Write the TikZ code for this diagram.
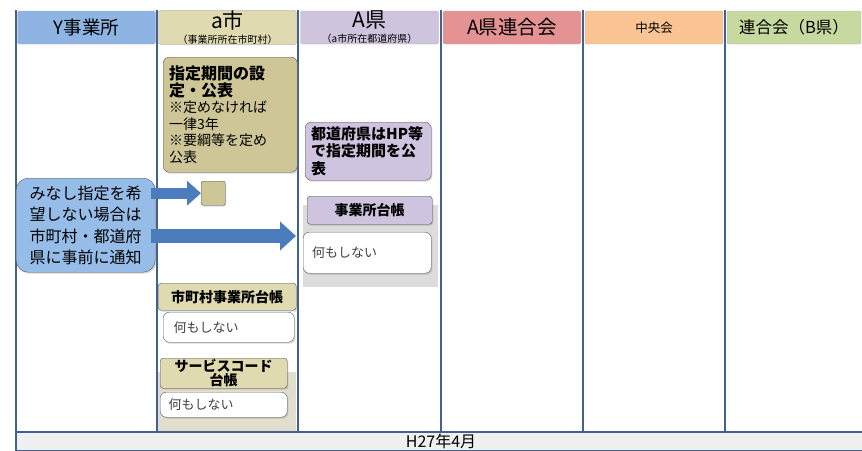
\documentclass[tikz,border=0pt]{standalone}
\usepackage{fontspec}
\setmainfont{Noto Sans CJK JP}
\usetikzlibrary{arrows.meta,shadows}

\definecolor{laneline}{RGB}{66,96,146}
\definecolor{hdblue}{RGB}{141,180,226}
\definecolor{hdtan}{RGB}{224,218,176}
\definecolor{hdlav}{RGB}{207,196,222}
\definecolor{hdpink}{RGB}{228,146,146}
\definecolor{hdorange}{RGB}{250,196,148}
\definecolor{hdgreen}{RGB}{198,217,158}
\definecolor{boxtan}{RGB}{206,198,150}
\definecolor{boxlav}{RGB}{206,196,224}
\definecolor{boxblue}{RGB}{150,188,232}
\definecolor{arrowblue}{RGB}{75,125,188}
\definecolor{areagray}{RGB}{220,220,220}
\definecolor{areabeige}{RGB}{226,222,206}

\tikzset{
  header/.style = {draw = gray!60, rounded corners = 2pt, minimum width = 138pt,
    minimum height = 33pt, inner sep = 0pt, align = center},
  card/.style = {draw = gray!70!black, rounded corners = 6pt, anchor = north west,
    inner sep = 0pt, drop shadow = {opacity = 0.3, shadow xshift = 1.2pt, shadow yshift = -1.5pt}},
  ledger/.style = {card, fill = #1, rounded corners = 3pt, align = center,
    font = \fontsize{14}{15}\selectfont\bfseries},
  blank/.style = {card, fill = white, text width = 110pt, align = left, text = black!75,
    font = \fontsize{13}{15}\selectfont},
  blockarrow/.style = {draw = arrowblue, line width = #1}
}

\begin{document}
\begin{tikzpicture}[x = 1pt, y = -1pt]

	% Frame

	\useasboundingbox (0, 0) rectangle (862, 450);

	% Shaded areas behind the ledgers

	\fill [areagray] (303, 205) rectangle (438, 287);
	\fill [areabeige] (158, 372) rectangle (296, 432);

	% Lane headers

	\node [header, fill = hdblue, font = \fontsize{18.5}{20}\selectfont] (hY) at (86.5, 27.5) {Y事業所};
	\node [header, fill = hdtan, font = \fontsize{21}{19}\selectfont] (hCity) at (227.5, 27.5)
		{a市\\[-4pt]\fontsize{10}{10}\selectfont（事業所所在市町村）};
	\node [header, fill = hdlav, font = \fontsize{21}{19}\selectfont] (hPref) at (369.5, 27.5)
		{A県\\[-4pt]\fontsize{10}{10}\selectfont（a市所在都道府県）};
	\node [header, fill = hdpink, font = \fontsize{19.5}{20}\selectfont] (hUnion) at (512, 27.5) {A県連合会};
	\node [header, fill = hdorange, font = \fontsize{12.5}{12}\selectfont] (hCentral) at (654, 27.5) {中央会};
	\node [header, fill = hdgreen, minimum width = 134pt, font = \fontsize{16.5}{18}\selectfont] (hOther)
		at (794, 27.5) {連合会（B県）};

	% Lane borders

	\foreach \x in {16, 157, 298, 441, 583, 725}
		\draw [laneline, line width = 1.8pt] (\x, 10) -- (\x, 432);

	% Time bar

	\draw [laneline, line width = 1.2pt, fill = gray!12] (16, 432) rectangle (864, 451);
	\node [font = \fontsize{16}{16}\selectfont] (when) at (441, 441.5) {H27年4月};

	% a-city lane

	\node [card, fill = boxtan, minimum width = 131pt, minimum height = 115pt,
		text width = 122pt, inner xsep = 6pt, inner ysep = 6pt, align = left,
		font = \fontsize{14}{16.5}\selectfont] (period) at (163, 57)
		{{\fontsize{16}{16.5}\selectfont\bfseries 指定期間の設}\\{\fontsize{16}{16.5}\selectfont\bfseries 定・公表}\\
		 ※定めなければ\\一律3年\\※要綱等を定め\\公表\\[2pt]};
	\node [card, fill = boxtan, rounded corners = 2pt, minimum size = 24pt] (sq) at (201, 181) {};

	\node [ledger = hdtan, minimum width = 138pt, minimum height = 27pt] (cityLedger) at (158, 283) {市町村事業所台帳};
	\node [blank, minimum width = 131pt, minimum height = 30pt, inner xsep = 9pt] (cityNone) at (163, 312) {何もしない};

	\node [ledger = hdtan, minimum width = 127pt, minimum height = 30pt,
		font = \fontsize{14}{14}\selectfont\bfseries] (codeLedger) at (160, 358) {サービスコード\\台帳};
	\node [blank, minimum width = 127pt, minimum height = 25pt, inner xsep = 8pt] (codeNone) at (160, 392) {何もしない};

	% A-prefecture lane

	\node [card, fill = boxlav, minimum width = 125pt, minimum height = 58pt,
		text width = 114pt, inner xsep = 6pt, align = left,
		font = \fontsize{15}{17.5}\selectfont\bfseries] (publish) at (305, 122)
		{都道府県はHP等\\で指定期間を公\\表};

	\node [ledger = boxlav, minimum width = 125pt, minimum height = 28pt] (prefLedger) at (307, 196) {事業所台帳};
	\node [blank, minimum width = 127pt, minimum height = 41pt, inner xsep = 9pt] (prefNone) at (303, 232) {何もしない};

	% Y-office lane

	\node [card, fill = boxblue, rounded corners = 12pt, minimum width = 139pt, minimum height = 94pt,
		align = center, font = \fontsize{16}{21.5}\selectfont] (notice) at (16, 178)
		{みなし指定を希\\望しない場合は\\市町村・都道府\\県に事前に通知};

	\coordinate (prefEdge) at (296, 236);

	% Notice arrows

	\draw [blockarrow = 11pt, -{Triangle[length = 14pt, width = 24pt]}]
		(notice.east |- sq.west) ++ (-4, 0) -- (sq.west);
	\draw [blockarrow = 14pt, -{Triangle[length = 16pt, width = 28pt]}]
		(notice.east |- prefEdge) ++ (-4, 0) -- (prefEdge);

\end{tikzpicture}
\end{document}
